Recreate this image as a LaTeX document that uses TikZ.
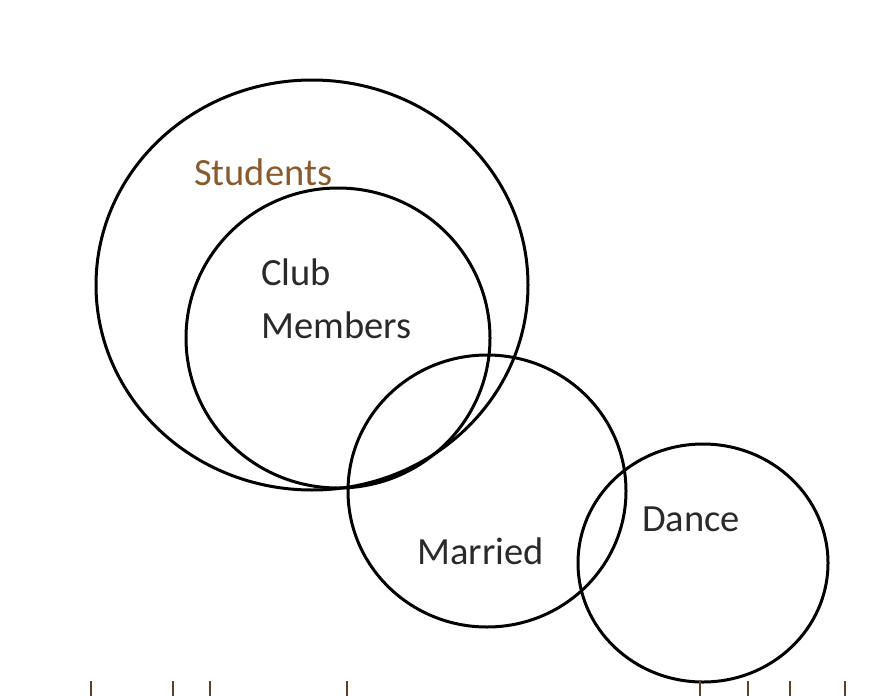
\documentclass[tikz,border=0pt]{standalone}
\usepackage{fontspec}
\setmainfont{Carlito}
\definecolor{studbrown}{HTML}{8A5A2E}
\definecolor{txtgray}{HTML}{2A2A2A}
\begin{document}
\begin{tikzpicture}[x=1pt,y=-1pt,
  setcircle/.style={draw=black,line width=3pt},
  setlabel/.style={font=\fontsize{38.5}{42}\selectfont,text=txtgray,inner sep=0pt,anchor=west},
  tick/.style={draw=studbrown!70!black,line width=2.8pt}]
\useasboundingbox (0,0) rectangle (891,696);
\draw[setcircle] (312,285) ellipse [x radius=216, y radius=205];
\draw[setcircle] (338,338) ellipse [x radius=152, y radius=150];
\draw[setcircle] (487,491) ellipse [x radius=139, y radius=136];
\draw[setcircle] (703,563) ellipse [x radius=125, y radius=119];
\node[setlabel,text=studbrown] (students) at (194,172) {Students};
\node[setlabel] (club) at (261,272) {Club};
\node[setlabel] (members) at (261,325) {Members};
\node[setlabel] (married) at (417,551) {Married};
\node[setlabel] (dance) at (642,519) {Dance};
\foreach \x in {91,173,210,347,700,748,790,845}
  \draw[tick] (\x,681) -- (\x,696);
\end{tikzpicture}
\end{document}
